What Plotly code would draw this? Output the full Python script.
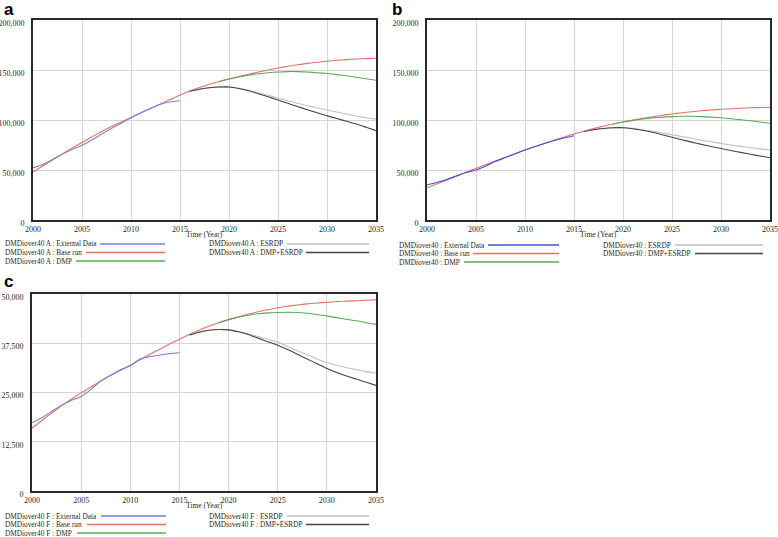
import plotly.graph_objects as go

years = list(range(2000, 2036))
N = None

# ---------- Panel a (DMDiover40 A) ----------
a_external = [52300, 55600, 60600, 66000, 70600, 74700, 80000, 86000, 91600, 96700,
              102300, 107300, 111700, 115700, 118000, 119300] + [N] * 20
a_base = [48000, 54000, 60000, 66000, 72000, 77500, 83000, 88500, 93500, 98000,
          102500, 107000, 111500, 116000, 120500, 125000, 129000, 132500, 135700, 138500,
          141000, 143500, 145800, 148000, 150000, 152000, 153700, 155200, 156600, 157800,
          158800, 159700, 160400, 161000, 161400, 161800]
a_dmp = [N] * 19 + [138500, 141000, 143000, 144800, 146200, 147300, 148000, 148400, 148400,
                    148000, 147300, 146500, 145400, 144200, 142800, 141300, 139700]
a_esrdp = [N] * 16 + [128700, 130800, 132300, 133000, 133000, 131800, 129800, 127300, 124700,
                      122000, 119300, 116700, 114300, 112000, 110000, 108000, 106000, 104000,
                      102300, 100700]
a_both = [N] * 16 + [128700, 130800, 132300, 133000, 133000, 131500, 129200, 126300, 123200,
                     120000, 116700, 113500, 110300, 107200, 104300, 101500, 98700, 96000,
                     92700, 89300]

# ---------- Panel b (DMDiover40) ----------
b_external = [35000, 37500, 40500, 44000, 47500, 50000, 54000, 58700, 62500, 66200,
              70000, 73300, 76500, 79500, 82000, 84300] + [N] * 20
b_base = [32000, 36000, 40000, 44000, 47800, 51500, 55300, 59000, 62700, 66300,
          70000, 73400, 76700, 79900, 83000, 86000, 88800, 91400, 93800, 96000,
          98000, 99900, 101600, 103200, 104700, 106000, 107200, 108300, 109200, 110000,
          110700, 111300, 111800, 112200, 112500, 112700]
b_dmp = [N] * 19 + [96000, 98000, 99600, 101000, 102100, 102900, 103400, 103700, 103700,
                    103400, 102900, 102200, 101300, 100300, 99200, 98000, 96700]
b_esrdp = [N] * 16 + [88500, 90300, 91500, 92200, 92300, 91600, 90300, 88700, 87000,
                      85300, 83500, 81700, 79900, 78200, 76600, 75000, 73600, 72300,
                      71100, 70000]
b_both = [N] * 16 + [88500, 90300, 91500, 92200, 92300, 91300, 89700, 87700, 85300,
                     82800, 80300, 77900, 75600, 73500, 71500, 69500, 67600, 65800,
                     64000, 62300]

# ---------- Panel c (DMDiover40 F) ----------
c_external = [17300, 18600, 20200, 21800, 23000, 24000, 25800, 27900, 29400, 30800,
              31800, 33500, 34100, 34500, 34900, 35100] + [N] * 20
c_base = [16000, 17900, 19800, 21600, 23300, 24900, 26400, 27900, 29300, 30600,
          31900, 33300, 34700, 36000, 37300, 38500, 39700, 40800, 41800, 42700,
          43500, 44200, 44900, 45500, 46000, 46500, 46900, 47200, 47500, 47700,
          47900, 48100, 48200, 48300, 48400, 48500]
c_dmp = [N] * 19 + [42700, 43500, 44100, 44600, 45000, 45200, 45300, 45350, 45300,
                    45100, 44800, 44400, 44000, 43600, 43200, 42700, 42300]
c_esrdp = [N] * 16 + [39600, 40300, 40800, 41000, 40900, 40500, 39900, 39200, 38500,
                      37800, 36700, 35600, 34600, 33500, 32600, 31900, 31300, 30800,
                      30300, 29900]
c_both = [N] * 16 + [39600, 40300, 40800, 41000, 40900, 40400, 39700, 38800, 37900,
                     37000, 35900, 34700, 33500, 32300, 31100, 30100, 29200, 28400,
                     27600, 26800]

x_ticks = [2000, 2005, 2010, 2015, 2020, 2025, 2030, 2035]
ab_yticks = [0, 50000, 100000, 150000, 200000]
c_yticks = [0, 12500, 25000, 37500, 50000]

series_names = ["External Data", "Base run", "DMP", "ESRDP", "DMP+ESRDP"]
prefixes = ["DMDiover40 A", "DMDiover40", "DMDiover40 F"]

COL = {
    "External Data": "#6f80e0",
    "Base run": "#e8706a",
    "DMP": "#5aaa5a",
    "ESRDP": "#c0c0c0",
    "DMP+ESRDP": "#454545",
}

W, H = 778, 537
SERIF = "Liberation Serif, Times New Roman, serif"
TXT = "#2a2a2a"
LEGSIZE = 7.3

panels = [
    dict(px=(33, 376, 20, 220), data=[a_external, a_base, a_dmp, a_esrdp, a_both],
         yt=ab_yticks, yr=200000, letter="a", lpos=(2, 9), prefix=prefixes[0],
         ext_color="#7585e0",
         leg=dict(rows=(244, 252.5, 261), ltext=3, rtext=207, lend=165, rend=369,
                  starts=[100, 86, 76, 287, 306])),
    dict(px=(427, 770, 20, 220), data=[b_external, b_base, b_dmp, b_esrdp, b_both],
         yt=ab_yticks, yr=200000, letter="b", lpos=(390, 9), prefix=prefixes[1],
         ext_color="#4a4fd0",
         leg=dict(rows=(245, 253.5, 262), ltext=397, rtext=601, lend=559, rend=763,
                  starts=[488, 473, 464, 675, 695])),
    dict(px=(32, 376, 294, 491), data=[c_external, c_base, c_dmp, c_esrdp, c_both],
         yt=c_yticks, yr=50000, letter="c", lpos=(2, 281), prefix=prefixes[2],
         ext_color="#6f80e0",
         leg=dict(rows=(516, 524.5, 533), ltext=3, rtext=207, lend=166, rend=369,
                  starts=[101, 87, 77, 287, 306])),
]

fig = go.Figure()
annotations = []
shapes = []

draw_order = [1, 2, 3, 4, 0]

for i, p in enumerate(panels):
    l, r, t, b = p["px"]
    xa = "x" if i == 0 else f"x{i+1}"
    ya = "y" if i == 0 else f"y{i+1}"
    for k in draw_order:
        name = series_names[k]
        color = p["ext_color"] if k == 0 else COL[name]
        fig.add_trace(go.Scatter(
            x=years, y=p["data"][k], mode="lines", name=f"{p['prefix']} : {name}",
            line=dict(color=color, width=1.1, shape="spline", smoothing=0.6),
            xaxis=xa, yaxis=ya, showlegend=False, connectgaps=False,
            hoverinfo="x+y+name"))

    axkey_x = "xaxis" if i == 0 else f"xaxis{i+1}"
    axkey_y = "yaxis" if i == 0 else f"yaxis{i+1}"
    fig.update_layout({
        axkey_x: dict(domain=[l / W, r / W], range=[2000, 2035], anchor=ya,
                      tickvals=x_ticks, ticktext=[str(v) for v in x_ticks],
                      showgrid=True, gridcolor="#d6d6d6", gridwidth=1,
                      showline=True, mirror=True, linecolor="#2a2a2a", linewidth=1.6,
                      ticks="", zeroline=False, ticklabelstandoff=1, automargin=False,
                      tickfont=dict(family=SERIF, size=8, color=TXT)),
        axkey_y: dict(domain=[1 - b / H, 1 - t / H], range=[0, p["yr"]], anchor=xa,
                      tickvals=p["yt"], tickformat=",d",
                      showgrid=True, gridcolor="#d6d6d6", gridwidth=1,
                      showline=True, mirror=True, linecolor="#2a2a2a", linewidth=1.6,
                      ticks="", zeroline=False, ticklabelstandoff=5, ticklabelshift=3,
                      automargin=False,
                      tickfont=dict(family=SERIF, size=8, color=TXT)),
    })

    annotations.append(dict(text=f"<b>{p['letter']}</b>", x=p["lpos"][0] / W, y=1 - p["lpos"][1] / H,
                            xref="paper", yref="paper", xanchor="left", yanchor="middle",
                            showarrow=False, font=dict(family="Liberation Sans, Arial, sans-serif",
                                                       size=17, color="#000")))
    annotations.append(dict(text="Time (Year)", x=(l + r) / 2 / W, y=1 - (b + 14) / H,
                            xref="paper", yref="paper", xanchor="center", yanchor="middle",
                            showarrow=False, font=dict(family=SERIF, size=7.5, color=TXT)))
    lg = p["leg"]
    slots = [(0, 0), (0, 1), (0, 2), (1, 0), (1, 1)]
    for k, (col, row) in enumerate(slots):
        name = series_names[k]
        color = p["ext_color"] if k == 0 else COL[name]
        ypx = lg["rows"][row]
        tx = lg["ltext"] if col == 0 else lg["rtext"]
        xend = lg["lend"] if col == 0 else lg["rend"]
        annotations.append(dict(text=f"{p['prefix']} : {name}", x=tx / W, y=1 - ypx / H,
                                xref="paper", yref="paper", xanchor="left", yanchor="middle",
                                showarrow=False, font=dict(family=SERIF, size=LEGSIZE, color=TXT)))
        shapes.append(dict(type="line", xref="paper", yref="paper",
                           x0=lg["starts"][k] / W, x1=xend / W,
                           y0=1 - ypx / H, y1=1 - ypx / H,
                           line=dict(color=color, width=1.3)))

fig.update_layout(width=W, height=H, margin=dict(l=0, r=0, t=0, b=0, pad=0),
                  paper_bgcolor="white", plot_bgcolor="white",
                  annotations=annotations, shapes=shapes, showlegend=False)

fig.write_html("out.html",
               config={"displayModeBar": False},
               post_script="document.body.style.margin='0';document.body.style.padding='0';"
                           "document.documentElement.style.overflow='hidden';")
